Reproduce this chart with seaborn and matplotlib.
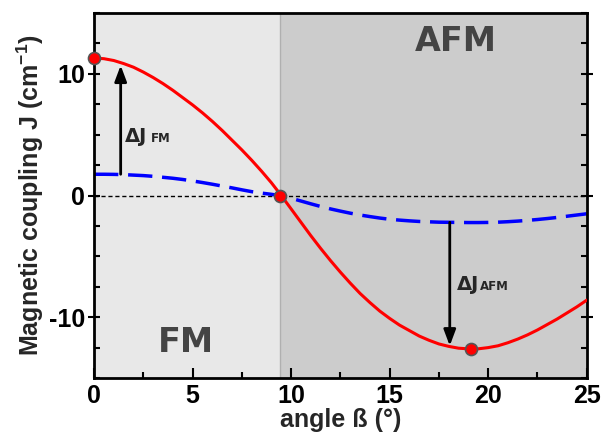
import numpy as np
import pandas as pd
import seaborn as sns
import matplotlib.pyplot as plt
from matplotlib.ticker import MultipleLocator

# angle beta (deg) and couplings
angle = [0, 0.5, 1, 1.5, 2, 2.5, 3, 3.5, 4, 4.5, 5, 5.5, 6, 6.5, 7, 7.5, 8, 8.5, 9, 9.5,
         10, 10.5, 11, 11.5, 12, 12.5, 13, 13.5, 14, 14.5, 15, 15.5, 16, 16.5, 17, 17.5,
         18, 18.5, 19, 19.5, 20, 20.5, 21, 21.5, 22, 22.5, 23, 23.5, 24, 24.5, 25]
j_red = [11.3, 11.25, 11.1, 10.85, 10.55, 10.15, 9.7, 9.2, 8.65, 8.05, 7.45, 6.8, 6.1,
         5.35, 4.55, 3.75, 2.9, 2.0, 1.05, 0.0,
         -1.1, -2.2, -3.3, -4.35, -5.35, -6.3, -7.2, -8.05, -8.8, -9.5, -10.1, -10.65,
         -11.1, -11.55, -11.9, -12.2, -12.4, -12.55, -12.6, -12.6, -12.5, -12.35, -12.1,
         -11.8, -11.45, -11.05, -10.6, -10.15, -9.65, -9.15, -8.6]
j_blue = [1.75, 1.75, 1.74, 1.72, 1.68, 1.64, 1.58, 1.5, 1.42, 1.32, 1.2, 1.07, 0.93,
          0.78, 0.63, 0.47, 0.32, 0.2, 0.1, -0.02,
          -0.22, -0.45, -0.68, -0.9, -1.1, -1.28, -1.45, -1.6, -1.73, -1.85, -1.95, -2.02,
          -2.08, -2.13, -2.16, -2.19, -2.2, -2.21, -2.22, -2.22, -2.21, -2.19, -2.15,
          -2.1, -2.04, -1.97, -1.89, -1.8, -1.7, -1.6, -1.5]

# highlighted points
pt_x = [0, 9.45, 19.15]
pt_y = [11.3, 0.0, -12.6]

fm_afm_border = 9.45

df = pd.DataFrame({"angle": angle, "red": j_red, "blue": j_blue})
pts = pd.DataFrame({"angle": pt_x, "J": pt_y})

sns.set_theme(style="ticks")
plt.rcParams["font.family"] = ["Liberation Sans", "DejaVu Sans"]
plt.rcParams["axes.unicode_minus"] = False
plt.rcParams["mathtext.fontset"] = "custom"
plt.rcParams["mathtext.bf"] = "Liberation Sans:bold"
plt.rcParams["mathtext.rm"] = "Liberation Sans:bold"

fig = plt.figure(figsize=(6.03, 4.36), dpi=100)
ax = fig.add_axes([0.156, 0.133, 0.817, 0.837])

ax.axvspan(0, fm_afm_border, color="#e8e8e8", lw=0, zorder=0)
ax.axvspan(fm_afm_border, 25, color="#cccccc", lw=0, zorder=0)
ax.axvline(fm_afm_border, color="#b0b0b0", lw=1, zorder=0.5)
ax.axhline(0, color="black", lw=1, ls=(0, (3, 2)), zorder=1)

sns.lineplot(data=df, x="angle", y="red", color="red", lw=2.2, ax=ax, zorder=3)
sns.lineplot(data=df, x="angle", y="blue", color="blue", lw=2.5, ax=ax, zorder=2)
ax.lines[-1].set_dashes((7, 2.8))
sns.scatterplot(data=pts, x="angle", y="J", color="red", s=75, edgecolor="#555555",
                linewidth=1.2, ax=ax, zorder=5, clip_on=False)

arrow = dict(arrowstyle="-|>,head_length=0.8,head_width=0.3", color="black", lw=2,
             shrinkA=0, shrinkB=0)
ax.annotate("", xy=(1.35, 10.7), xytext=(1.35, 1.75), arrowprops=arrow, zorder=4)
ax.annotate("", xy=(18.05, -12.35), xytext=(18.05, -2.2), arrowprops=arrow, zorder=4)

ax.text(1.55, 4.37, "ΔJ", fontsize=14, family="DejaVu Sans", weight="bold", va="baseline")
ax.text(2.9, 4.37, "FM", fontsize=8.5, family="DejaVu Sans", weight="bold", va="baseline")
ax.text(18.4, -7.79, "ΔJ", fontsize=14, family="DejaVu Sans", weight="bold", va="baseline")
ax.text(19.6, -7.79, "AFM", fontsize=8.5, family="DejaVu Sans", weight="bold", va="baseline")

ax.text(4.67, -12.1, "FM", fontsize=24, family="DejaVu Sans", weight="bold",
        color="#444444", ha="center", va="center")
ax.text(18.35, 12.7, "AFM", fontsize=24, family="DejaVu Sans", weight="bold",
        color="#444444", ha="center", va="center")

ax.set_xlim(0, 25)
ax.set_ylim(-15, 15)
ax.xaxis.set_major_locator(MultipleLocator(5))
ax.xaxis.set_minor_locator(MultipleLocator(2.5))
ax.yaxis.set_major_locator(MultipleLocator(10))
ax.yaxis.set_minor_locator(MultipleLocator(2.5))
ax.tick_params(which="both", direction="in", right=True, width=1.5, colors="black")
ax.tick_params(which="major", length=7, labelsize=18, pad=4)
ax.tick_params(which="minor", length=4)
ax.tick_params(axis="y", which="major", direction="inout", length=9, pad=2)
for lab in ax.get_xticklabels() + ax.get_yticklabels():
    lab.set_fontweight("bold")
for sp in ax.spines.values():
    sp.set_linewidth(2)
    sp.set_color("black")

ax.set_xlabel("angle ß (°)", fontsize=18, weight="bold", labelpad=0)
ax.set_ylabel(r"Magnetic coupling J (cm$^{-1}$)", fontsize=18, weight="bold",
              labelpad=2)

fig.savefig("out.png", dpi=100)
